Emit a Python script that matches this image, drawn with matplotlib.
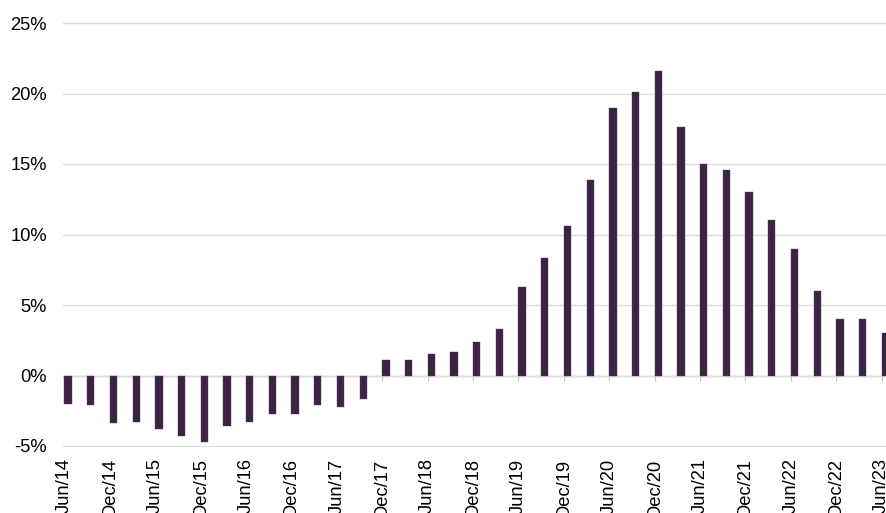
import matplotlib
matplotlib.use("Agg")
import matplotlib.pyplot as plt
import numpy as np

# Quarterly periods and year-on-year change (%)
quarters = [
    "Jun/14", "Sep/14", "Dec/14", "Mar/15", "Jun/15", "Sep/15", "Dec/15",
    "Mar/16", "Jun/16", "Sep/16", "Dec/16", "Mar/17", "Jun/17", "Sep/17",
    "Dec/17", "Mar/18", "Jun/18", "Sep/18", "Dec/18", "Mar/19", "Jun/19",
    "Sep/19", "Dec/19", "Mar/20", "Jun/20", "Sep/20", "Dec/20", "Mar/21",
    "Jun/21", "Sep/21", "Dec/21", "Mar/22", "Jun/22", "Sep/22", "Dec/22",
    "Mar/23", "Jun/23",
]
change_pct = [
    -2.0, -2.1, -3.4, -3.3, -3.8, -4.3, -4.7,
    -3.6, -3.3, -2.7, -2.7, -2.1, -2.2, -1.7,
    1.1, 1.1, 1.5, 1.7, 2.4, 3.3, 6.3,
    8.3, 10.6, 13.9, 19.0, 20.1, 21.6, 17.6,
    15.0, 14.6, 13.0, 11.0, 9.0, 6.0, 4.0,
    4.0, 3.0,
]
y_ticks = [-5, 0, 5, 10, 15, 20, 25]

BAR = "#3b2342"
GRID = "#dedede"
AXIS = "#bfbfbf"

plt.rcParams["font.family"] = ["Liberation Sans", "DejaVu Sans"]

W, H = 887, 513
fig = plt.figure(figsize=(W / 100, H / 100), dpi=100)

# plot area in pixel terms (right side runs past the canvas edge)
left_px, right_px, top_px, bottom_px = 63, 900, 22, 447
ax = fig.add_axes([left_px / W, (H - bottom_px) / H,
                   (right_px - left_px) / W, (bottom_px - top_px) / H])

x = np.arange(len(quarters))
ax.bar(x, change_pct, width=0.32, align="edge", color=BAR,
       edgecolor="#5a4560", linewidth=0.3, zorder=3)

step = 22.7
ax.set_xlim((left_px - 64.5) / step, (right_px - 64.5) / step)
pad_pct = 1 / 14.1
ax.set_ylim(-5 - pad_pct, 25 + pad_pct)

ax.set_yticks(y_ticks)
ax.set_yticklabels([f"{v}%" for v in y_ticks])
ax.yaxis.grid(True, color=GRID, linewidth=1.0, zorder=0)
ax.set_axisbelow(True)

label_idx = x[::2]
ax.set_xticks(label_idx)
ax.set_xticklabels([quarters[i] for i in label_idx], rotation=90)

for s in ax.spines.values():
    s.set_visible(False)
ax.tick_params(axis="y", length=0, pad=11.5, labelsize=13.2, colors="#000000")
ax.tick_params(axis="x", length=0, pad=8.2, labelsize=13.2, colors="#000000")

# zero line with its tick marks
y0, y1 = ax.get_ylim()
zero = ax.secondary_xaxis((0 - y0) / (y1 - y0))
zero.set_xticks(label_idx)
zero.set_xticklabels([])
zero.tick_params(axis="x", direction="out", length=3.8, width=0.8, color=AXIS)
zero.spines["bottom"].set_color(AXIS)
zero.spines["bottom"].set_linewidth(1.0)

fig.savefig("out.png", dpi=100)
